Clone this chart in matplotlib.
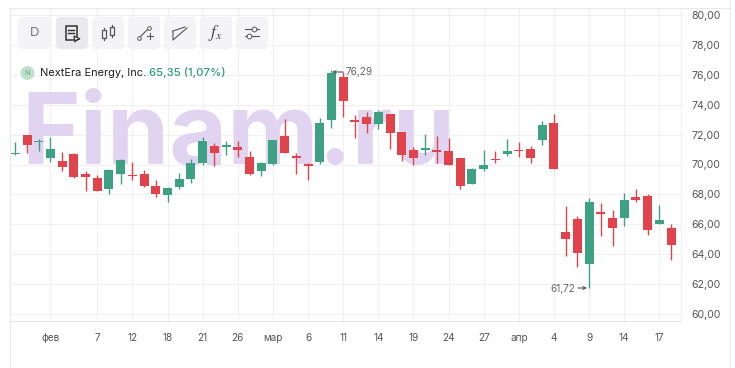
import matplotlib
matplotlib.use("Agg")
import matplotlib.pyplot as plt
from matplotlib.patches import FancyBboxPatch, Circle, Rectangle

plt.rcParams["font.family"] = ["Inter", "DejaVu Sans"]

# Candles
opens = [70.70, 71.97, 71.50, 70.45, 70.21, 70.70, 69.36, 69.08, 68.34, 69.38,
         69.32, 69.36, 68.56, 67.98, 68.52, 69.05, 70.12, 71.24, 71.20, 71.15,
         70.48, 69.59, 70.03, 71.91, 70.53, 69.99, 70.19, 72.98, 75.83, 72.93,
         73.16, 72.71, 73.38, 72.17, 70.97, 70.99, 70.92, 70.90, 70.43, 68.70,
         69.70, 70.36, 70.70, 70.92, 71.03, 71.64, 72.78, 65.49, 66.35, 63.34,
         66.78, 66.42, 66.42, 67.80, 67.91, 66.02, 65.75]
closes = [70.80, 71.32, 71.55, 71.02, 69.85, 69.18, 69.18, 68.25, 69.63, 70.30,
          69.23, 68.56, 68.03, 68.43, 69.03, 70.10, 71.57, 70.79, 71.24, 70.99,
          69.36, 70.08, 71.64, 70.79, 70.45, 69.93, 72.76, 76.10, 74.27, 72.87,
          72.71, 73.51, 72.09, 70.66, 70.45, 71.05, 70.85, 69.99, 68.56, 69.70,
          69.97, 70.30, 70.92, 70.88, 70.45, 72.64, 69.70, 65.02, 64.10, 67.49,
          66.70, 65.75, 67.62, 67.62, 65.62, 66.29, 64.62]
highs = [71.53, 71.97, 71.70, 71.82, 70.84, 70.79, 69.59, 69.32, 69.70, 70.39,
         70.17, 69.63, 68.96, 68.49, 69.43, 70.37, 71.86, 71.42, 71.59, 71.55,
         70.88, 70.17, 71.64, 73.06, 70.79, 70.12, 73.09, 76.29, 76.20, 73.31,
         73.51, 73.65, 73.38, 72.17, 71.15, 72.04, 71.91, 71.77, 70.43, 69.75,
         70.97, 70.90, 71.70, 71.50, 71.24, 72.91, 73.38, 67.22, 66.55, 67.76,
         67.44, 66.96, 68.07, 68.36, 68.00, 67.29, 66.00]
lows = [70.64, 70.77, 70.90, 70.15, 69.59, 69.12, 68.25, 68.21, 68.03, 68.70,
        68.96, 68.47, 67.83, 67.51, 68.38, 68.78, 69.99, 69.90, 70.66, 70.52,
        69.32, 69.23, 70.00, 70.75, 69.36, 68.96, 70.03, 72.46, 73.16, 71.77,
        72.09, 72.35, 71.06, 70.25, 69.99, 70.62, 70.08, 69.95, 68.38, 68.67,
        69.59, 70.12, 70.57, 70.52, 70.12, 71.32, 69.70, 63.88, 63.16, 61.72,
        65.22, 64.55, 65.89, 67.51, 65.28, 66.00, 63.61]

x_ticks = [3, 7, 10, 13, 16, 19, 22, 25, 28, 31, 34, 37, 40, 43, 46, 49, 52, 55]
x_labels = ["фев", "7", "12", "18", "21", "26", "мар", "6", "11", "14", "19",
            "24", "27", "апр", "4", "9", "14", "17"]
y_ticks = [60, 62, 64, 66, 68, 70, 72, 74, 76, 78, 80]
y_labels = ["60,00", "62,00", "64,00", "66,00", "68,00", "70,00", "72,00",
            "74,00", "76,00", "78,00", "80,00"]

GREEN = "#3FA183"
RED = "#E0434B"
W, H = 735, 368

fig = plt.figure(figsize=(7.35, 3.68), dpi=100)
L, R, T, B = 10, 681, 8, 320.5
ax = fig.add_axes([L / W, 1 - B / H, (R - L) / W, (B - T) / H])
# pixel overlay for the app chrome
ov = fig.add_axes([0, 0, 1, 1], zorder=5)
ov.set_xlim(0, W)
ov.set_ylim(H, 0)
ov.axis("off")
ov.patch.set_alpha(0)

x0, step = 15.3, 11.71
ax.set_xlim((L - x0) / step, (R - x0) / step)
ax.set_ylim(80 - (B - 15) / 14.95, 80 - (T - 15) / 14.95)

ax.set_xticks(x_ticks, x_labels)
ax.set_yticks(y_ticks, y_labels)
ax.yaxis.tick_right()
ax.tick_params(axis="x", length=0, pad=9, labelsize=7.2, labelcolor="#555555")
ax.tick_params(axis="y", length=0, pad=7.5, labelsize=7.6, labelcolor="#555555")
ax.grid(True, color="#F0F0F0", linewidth=0.8)
ax.set_axisbelow(True)
for s in ["top", "right"]:
    ax.spines[s].set_color("#EEEEEE")
for s in ["left", "bottom"]:
    ax.spines[s].set_color("#E6E6E6")

# page frame around the widget
ov.plot([10, 10], [8, H], color="#E9E9E9", lw=0.8)
ov.plot([10, 730], [8, 8], color="#E9E9E9", lw=0.8)
ov.plot([730, 730], [0, H], color="#E9E9E9", lw=0.8)

ax.text(21, 164, "Finam.ru", transform=ov.transData, fontsize=72, fontweight="bold",
        color="#E0D4F0", va="baseline", ha="left", zorder=1, clip_on=False)

for i in range(len(opens)):
    c = GREEN if closes[i] >= opens[i] else RED
    ax.vlines(i, lows[i], highs[i], color=c, linewidth=1.0, zorder=3)
    bot = min(opens[i], closes[i])
    hgt = max(abs(closes[i] - opens[i]), 0.09)
    ax.bar(i, hgt, bottom=bot, width=0.77, color=c, linewidth=0, zorder=4)

# extreme labels
ov.text(346, 72, "76,29", fontsize=7.2, color="#666666", va="center", ha="left")
ov.annotate("", xy=(332, 72), xytext=(343, 72),
            arrowprops=dict(arrowstyle="->", color="#555555", lw=0.8, shrinkA=0, shrinkB=0, mutation_scale=5))
ov.text(575, 289, "61,72", fontsize=7.2, color="#666666", va="center", ha="right")
ov.annotate("", xy=(587, 288), xytext=(578, 288),
            arrowprops=dict(arrowstyle="->", color="#555555", lw=0.8, shrinkA=0, shrinkB=0, mutation_scale=5))

# toolbar
for k, bx in enumerate([18, 56, 92, 128, 164, 200, 236]):
    w = 34 if k == 0 else 32
    col = "#E9E9EE" if k == 1 else "#F4F4F7"
    ov.add_patch(FancyBboxPatch((bx + 4, 21), w - 8, 24, boxstyle="round,pad=0,rounding_size=0.1",
                                fc=col, ec=col, lw=6, joinstyle="round"))
IC = "#555555"
ov.text(34.5, 33, "D", fontsize=9.5, color="#777777", ha="center", va="center")
# report icon
ov.add_patch(Rectangle((66, 26), 11, 14, fc="none", ec="#333333", lw=1.1))
ov.plot([68.5, 74.5], [30, 30], color="#333333", lw=1)
ov.plot([68.5, 74.5], [33, 33], color="#333333", lw=1)
ov.fill([74, 80, 76.5, 75], [36, 39, 40, 42], fc="white", ec="#333333", lw=0.9)
# candles icon
ov.add_patch(Rectangle((102, 30), 4, 8, fc="none", ec=IC, lw=0.9))
ov.plot([104, 104], [28, 30], color=IC, lw=0.9)
ov.plot([104, 104], [38, 40], color=IC, lw=0.9)
ov.add_patch(Rectangle((110, 27), 4, 8, fc="none", ec=IC, lw=0.9))
ov.plot([112, 112], [25, 27], color=IC, lw=0.9)
ov.plot([112, 112], [35, 37], color=IC, lw=0.9)
# line tool icon
ov.plot([139, 148], [38, 29], color=IC, lw=0.8)
ov.plot([139, 149], [38, 28], "o", mfc="white", mec=IC, ms=2.6, mew=0.7)
ov.plot([147, 153], [36, 36], color=IC, lw=0.8)
ov.plot([150, 150], [33, 39], color=IC, lw=0.8)
# channel icon
ov.plot([173, 173, 187], [31, 40, 28], color=IC, lw=0.8)
ov.plot([173, 185], [31, 27], color=IC, lw=0.8)
# fx icon
ov.text(215.5, 33, "$f_x$", fontsize=12.5, color="#444444", ha="center", va="center",
        math_fontfamily="stix")
# sliders icon
ov.plot([245, 259], [29, 29], color=IC, lw=0.8)
ov.plot([245, 259], [36, 36], color=IC, lw=0.8)
ov.plot([254, 249], [29, 36], "o", mfc="white", mec=IC, ms=3.4, mew=0.7)

# instrument line
ov.add_patch(Circle((27.5, 73), 7, fc="#BFE0CC", ec="none"))
ov.text(27.5, 73, "N", fontsize=5.5, color="#5FA583", ha="center", va="center")
ov.text(40, 73, "NextEra Energy, Inc.", fontsize=7.9, color="#222222", va="center", ha="left")
ov.text(149, 73, "65,35 (1,07%)", fontsize=8.2, color="#2F9E77", va="center", ha="left",
        fontweight="medium")

fig.savefig("out.png", dpi=100)
